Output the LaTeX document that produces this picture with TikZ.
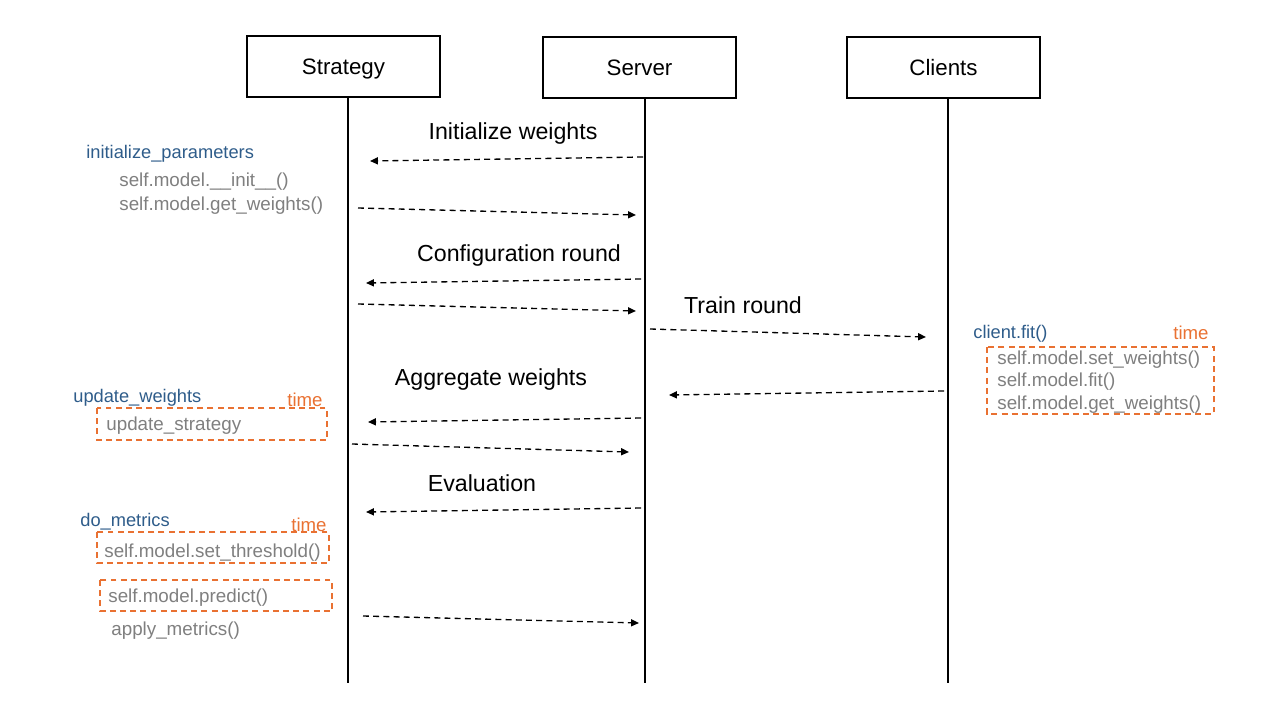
\documentclass[tikz,border=0pt]{standalone}
\usepackage{fontspec}
\setmainfont{Liberation Sans}
\usetikzlibrary{arrows.meta}
\definecolor{fnblue}{HTML}{2E5C8A}
\definecolor{fnorange}{HTML}{E97132}
\definecolor{fngray}{HTML}{7F7F7F}
\tikzset{
  actor/.style={draw=black, line width=0.9pt, minimum width=193*0.02cm, minimum height=61*0.02cm, font=\fontsize{12.7}{14}\selectfont, inner sep=0pt, text height=2ex, text depth=0.25ex},
  life/.style={line width=1.6pt},
  msg/.style={line width=0.75pt, dash pattern=on 3.4pt off 2.4pt, -{Triangle[length=4.5pt,width=4pt]}},
  msglabel/.style={font=\fontsize{13.2}{15}\selectfont, inner sep=0pt},
  fnname/.style={anchor=west, inner sep=0pt, text=fnblue, font=\fontsize{10.4}{12}\selectfont, yshift=-0.02cm},
  fncall/.style={anchor=west, inner sep=0pt, text=fngray, font=\fontsize{10.7}{12}\selectfont, yshift=-0.03cm},
  timelbl/.style={anchor=west, inner sep=0pt, text=fnorange, font=\fontsize{10.6}{12}\selectfont},
  timebox/.style={draw=fnorange, line width=0.9pt, dash pattern=on 3.4pt off 2.4pt}
}
\begin{document}
\begin{tikzpicture}[x=0.02cm, y=-0.02cm]
\useasboundingbox (0,0) rectangle (1280,720);
% actors
\node[actor] (strat) at (343.5,66.5) {Strategy};
\node[actor] (serv) at (639.5,67.5) {Server};
\node[actor] (cli) at (943.5,67.5) {Clients};
% lifelines
\coordinate (sEnd) at (348,683);
\coordinate (vEnd) at (645,683);
\coordinate (cEnd) at (948,683);
\draw[life] (348,97) -- (sEnd);
\draw[life] (645,98) -- (vEnd);
\draw[life] (948,98) -- (cEnd);
% message endpoints
\coordinate (a1s) at (643,157); \coordinate (a1e) at (370,161);
\coordinate (a2s) at (358,208); \coordinate (a2e) at (636,215);
\coordinate (a3s) at (641,279); \coordinate (a3e) at (366,283);
\coordinate (a4s) at (358,304); \coordinate (a4e) at (636,311);
\coordinate (a5s) at (650,329); \coordinate (a5e) at (926,337);
\coordinate (a6s) at (944,391); \coordinate (a6e) at (669,395);
\coordinate (a7s) at (641,418); \coordinate (a7e) at (368,422);
\coordinate (a8s) at (352,444); \coordinate (a8e) at (629,452);
\coordinate (a9s) at (641,508); \coordinate (a9e) at (366,512);
\coordinate (a10s) at (363,616); \coordinate (a10e) at (639,623);
\draw[msg] (a1s) -- (a1e);
\draw[msg] (a2s) -- (a2e);
\draw[msg] (a3s) -- (a3e);
\draw[msg] (a4s) -- (a4e);
\draw[msg] (a5s) -- (a5e);
\draw[msg] (a6s) -- (a6e);
\draw[msg] (a7s) -- (a7e);
\draw[msg] (a8s) -- (a8e);
\draw[msg] (a9s) -- (a9e);
\draw[msg] (a10s) -- (a10e);
% message labels
\node[msglabel] (l1) at (513,134) {Initialize weights};
\node[msglabel] (l2) at (519,255) {Configuration round};
\node[msglabel] (l3) at (743,305) {Train round};
\node[msglabel] (l4) at (491,379) {Aggregate weights};
\node[msglabel] (l5) at (482,483) {Evaluation};
% left: initialize
\node[fnname] (n1) at (86,153) {initialize\_parameters};
\node[fncall] (c1) at (119,180) {self.model.\_\_init\_\_()};
\node[fncall] (c2) at (119,204) {self.model.get\_weights()};
% left: update weights
\node[fnname] (n2) at (73,397) {update\_weights};
\node[timelbl] (t2) at (287,400) {time};
\draw[timebox] (97,408) rectangle (327,440);
\node[fncall] (c3) at (106,424) {update\_strategy};
% left: do metrics
\node[fnname] (n3) at (80,521) {do\_metrics};
\node[timelbl] (t3) at (291,525) {time};
\draw[timebox] (97,532) rectangle (329,563);
\node[fncall] (c4) at (104,551) {self.model.set\_threshold()};
\draw[timebox] (100,580) rectangle (332,611);
\node[fncall] (c5) at (108,596) {self.model.predict()};
\node[fncall] (c6) at (111,629) {apply\_metrics()};
% right: client fit
\node[fnname] (n4) at (973,333) {client.fit()};
\node[timelbl] (t4) at (1173,333) {time};
\draw[timebox] (987,347) rectangle (1214,414);
\node[fncall] (c7) at (997,358) {self.model.set\_weights()};
\node[fncall] (c8) at (997,380) {self.model.fit()};
\node[fncall] (c9) at (997,403) {self.model.get\_weights()};
\end{tikzpicture}
\end{document}
